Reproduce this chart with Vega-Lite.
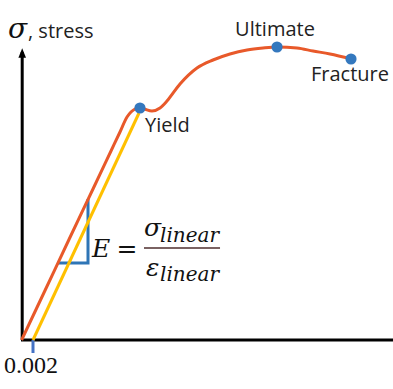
{
  "$schema": "https://vega.github.io/schema/vega-lite/v6.json",
  "width": 372,
  "height": 300,
  "autosize": "none",
  "padding": {"left": 21, "top": 40, "right": 0, "bottom": 49},
  "background": "white",
  "config": {"view": {"stroke": null}},
  "datasets": {
    "axes": [
      {"x": 0, "y": 0, "x2": 0.062, "y2": 0},
      {"x": 0.0002, "y": 0, "x2": 0.0002, "y2": 576}
    ],
    "arrow": [{"x": 0.0002, "y": 574}],
    "tick": [{"x": 0.002, "y": 0, "x2": 0.002, "y2": -26}],
    "offset": [
      {"x": 0.002, "y": 0},
      {"x": 0.01967, "y": 454}
    ],
    "curve": [
      {"x": 0.0001, "y": 0},
      {"x": 0.004, "y": 99},
      {"x": 0.008, "y": 201},
      {"x": 0.012, "y": 302},
      {"x": 0.015, "y": 378},
      {"x": 0.0165, "y": 416},
      {"x": 0.01767, "y": 446},
      {"x": 0.01833, "y": 456},
      {"x": 0.019, "y": 462},
      {"x": 0.01967, "y": 464},
      {"x": 0.0205, "y": 462},
      {"x": 0.02183, "y": 458},
      {"x": 0.02317, "y": 464},
      {"x": 0.02433, "y": 478},
      {"x": 0.0265, "y": 512},
      {"x": 0.02933, "y": 544},
      {"x": 0.032, "y": 560},
      {"x": 0.03483, "y": 572},
      {"x": 0.03767, "y": 580},
      {"x": 0.04033, "y": 584},
      {"x": 0.04267, "y": 586},
      {"x": 0.046, "y": 584},
      {"x": 0.04867, "y": 578},
      {"x": 0.0515, "y": 572},
      {"x": 0.055, "y": 562}
    ],
    "triangle": [
      {"i": 1, "x": 0.006167, "y": 154},
      {"i": 2, "x": 0.011167, "y": 154},
      {"i": 3, "x": 0.011167, "y": 282}
    ],
    "fraction": [{"x": 0.0205, "y": 184, "x2": 0.03317, "y2": 184}],
    "points": [
      {"name": "Yield", "x": 0.01983, "y": 464},
      {"name": "Ultimate", "x": 0.04267, "y": 586},
      {"name": "Fracture", "x": 0.055, "y": 562}
    ],
    "labelsLeft": [
      {"t": "Yield", "x": 0.02067, "y": 416},
      {"t": ", stress", "x": 0.001167, "y": 604}
    ],
    "labelsCenter": [
      {"t": "Ultimate", "x": 0.04233, "y": 608},
      {"t": "Fracture", "x": 0.05483, "y": 518}
    ],
    "sigmaTitle": [{"t": "σ", "x": -0.002167, "y": 604}],
    "tickLabel": [{"t": "0.002", "x": 0.00167, "y": -66}],
    "mathBig": [
      {"t": "E", "x": 0.01183, "y": 166},
      {"t": "σ", "x": 0.0205, "y": 208},
      {"t": "ε", "x": 0.02083, "y": 128}
    ],
    "mathEq": [{"t": "=", "x": 0.01767, "y": 166}],
    "mathSub": [
      {"t": "linear", "x": 0.02317, "y": 196},
      {"t": "linear", "x": 0.02317, "y": 118}
    ]
  },
  "encoding": {
    "x": {"field": "x", "type": "quantitative", "scale": {"domain": [0, 0.062], "nice": false, "zero": false}, "axis": null},
    "y": {"field": "y", "type": "quantitative", "scale": {"domain": [0, 600], "nice": false, "zero": false}, "axis": null}
  },
  "layer": [
    {
      "data": {"name": "axes"},
      "mark": {"type": "rule", "color": "black", "strokeWidth": 3},
      "encoding": {"x2": {"field": "x2"}, "y2": {"field": "y2"}}
    },
    {
      "data": {"name": "arrow"},
      "mark": {"type": "point", "shape": "M-0.8,1L0,-1L0.8,1Z", "filled": true, "color": "black", "size": 90, "opacity": 1}
    },
    {
      "data": {"name": "tick"},
      "mark": {"type": "rule", "color": "#4472C4", "strokeWidth": 3},
      "encoding": {"x2": {"field": "x2"}, "y2": {"field": "y2"}}
    },
    {
      "data": {"name": "triangle"},
      "mark": {"type": "line", "color": "#2E75B6", "strokeWidth": 3, "strokeJoin": "miter"},
      "encoding": {"order": {"field": "i", "type": "quantitative"}}
    },
    {
      "data": {"name": "offset"},
      "mark": {"type": "line", "color": "#FFC000", "strokeWidth": 3},
      "encoding": {}
    },
    {
      "data": {"name": "curve"},
      "mark": {"type": "line", "color": "#E8592A", "strokeWidth": 3, "interpolate": "monotone"},
      "encoding": {}
    },
    {
      "data": {"name": "fraction"},
      "mark": {"type": "rule", "color": "#7A6262", "strokeWidth": 2},
      "encoding": {"x2": {"field": "x2"}, "y2": {"field": "y2"}}
    },
    {
      "data": {"name": "points"},
      "mark": {"type": "circle", "color": "#3478BE", "size": 125, "opacity": 1}
    },
    {
      "data": {"name": "labelsLeft"},
      "mark": {"type": "text", "font": "Open Sans", "fontSize": 20, "align": "left", "baseline": "alphabetic", "color": "#222222"},
      "encoding": {"text": {"field": "t"}}
    },
    {
      "data": {"name": "labelsCenter"},
      "mark": {"type": "text", "font": "Open Sans", "fontSize": 20, "align": "center", "baseline": "alphabetic", "color": "#222222"},
      "encoding": {"text": {"field": "t"}}
    },
    {
      "data": {"name": "sigmaTitle"},
      "mark": {"type": "text", "font": "DejaVu Serif", "fontStyle": "italic", "fontSize": 28, "align": "left", "baseline": "alphabetic", "color": "#111111"},
      "encoding": {"text": {"field": "t"}}
    },
    {
      "data": {"name": "tickLabel"},
      "mark": {"type": "text", "font": "Liberation Serif", "fontSize": 24, "align": "center", "baseline": "alphabetic", "color": "#111111"},
      "encoding": {"text": {"field": "t"}}
    },
    {
      "data": {"name": "mathBig"},
      "mark": {"type": "text", "font": "DejaVu Serif", "fontStyle": "italic", "fontSize": 25, "align": "left", "baseline": "alphabetic", "color": "#111111"},
      "encoding": {"text": {"field": "t"}}
    },
    {
      "data": {"name": "mathEq"},
      "mark": {"type": "text", "font": "DejaVu Serif", "fontSize": 25, "align": "center", "baseline": "alphabetic", "color": "#111111"},
      "encoding": {"text": {"field": "t"}}
    },
    {
      "data": {"name": "mathSub"},
      "mark": {"type": "text", "font": "DejaVu Serif", "fontStyle": "italic", "fontSize": 20, "align": "left", "baseline": "alphabetic", "color": "#111111"},
      "encoding": {"text": {"field": "t"}}
    }
  ]
}
